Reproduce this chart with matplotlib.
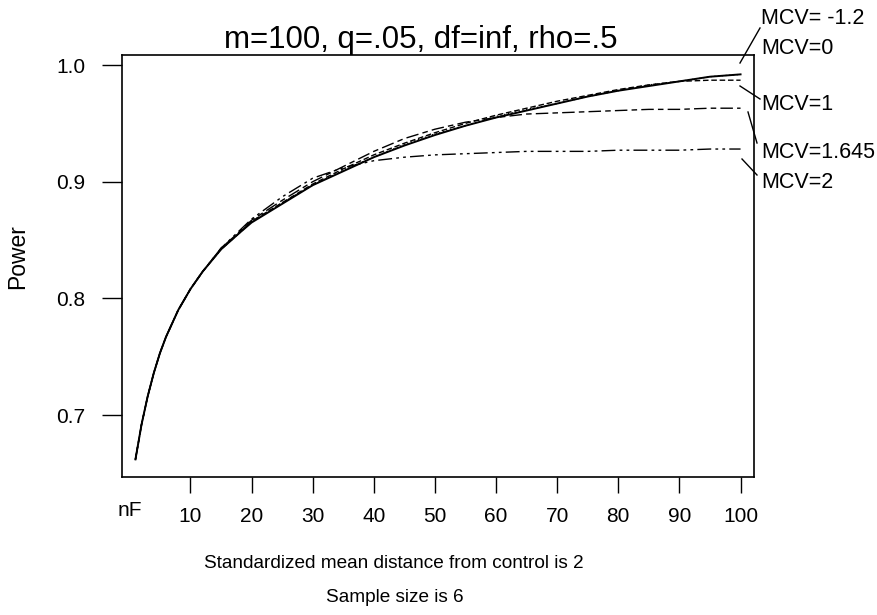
import matplotlib
matplotlib.use("Agg")
import matplotlib.pyplot as plt
from matplotlib.lines import Line2D

plt.rcParams['font.family'] = ['Liberation Sans', 'DejaVu Sans']

# ---- data ----
n_f = [1, 2, 3, 4, 5, 6, 8, 10, 12, 15, 18, 20, 25, 30, 35, 40, 45, 50,
       55, 60, 65, 70, 75, 80, 85, 90, 95, 100]

power_m12 = [0.662, 0.692, 0.716, 0.736, 0.753, 0.767, 0.790, 0.808, 0.823,
             0.842, 0.856, 0.865, 0.881, 0.897, 0.909, 0.921, 0.931, 0.940,
             0.948, 0.955, 0.961, 0.967, 0.973, 0.978, 0.982, 0.986, 0.990, 0.992]
power_0 = [0.662, 0.692, 0.716, 0.736, 0.753, 0.767, 0.790, 0.808, 0.823,
           0.842, 0.856, 0.866, 0.882, 0.897, 0.910, 0.921, 0.932, 0.941,
           0.948, 0.956, 0.962, 0.967, 0.973, 0.978, 0.983, 0.986, 0.990, 0.992]
power_1 = [0.662, 0.692, 0.716, 0.736, 0.753, 0.767, 0.790, 0.808, 0.823,
           0.842, 0.856, 0.866, 0.882, 0.898, 0.911, 0.923, 0.933, 0.942,
           0.950, 0.957, 0.963, 0.969, 0.974, 0.979, 0.983, 0.986, 0.987, 0.987]
power_1645 = [0.662, 0.692, 0.716, 0.736, 0.753, 0.767, 0.790, 0.808, 0.823,
              0.843, 0.857, 0.867, 0.884, 0.900, 0.913, 0.926, 0.937, 0.945,
              0.951, 0.955, 0.958, 0.959, 0.960, 0.961, 0.962, 0.962, 0.963, 0.963]
power_2 = [0.662, 0.692, 0.716, 0.736, 0.753, 0.767, 0.790, 0.808, 0.823,
           0.843, 0.858, 0.868, 0.887, 0.903, 0.912, 0.918, 0.921, 0.923,
           0.924, 0.925, 0.926, 0.926, 0.926, 0.927, 0.927, 0.927, 0.928, 0.928]

series_labels = ["MCV= -1.2", "MCV=0", "MCV=1", "MCV=1.645", "MCV=2"]
x_ticks = [10, 20, 30, 40, 50, 60, 70, 80, 90, 100]
y_ticks = [0.7, 0.8, 0.9, 1.0]
y_tick_labels = ["0.7", "0.8", "0.9", "1.0"]

title_text = "m=100, q=.05, df=inf, rho=.5"
xlabel1 = "Standardized mean distance from control is 2"
xlabel2 = "Sample size is 6"

W, H = 878, 615
fig = plt.figure(figsize=(W / 100, H / 100), dpi=100)
ax = fig.add_axes([122 / W, 1 - 477 / H, (754 - 122) / W, (477 - 55) / H])

ax.plot(n_f, power_m12, color='black', lw=1.4, ls='-')
ax.plot(n_f, power_0, color='black', lw=0.9, ls=(0, (1, 2)))
ax.plot(n_f, power_1, color='black', lw=1.0, ls=(0, (4, 2)))
ax.plot(n_f, power_1645, color='black', lw=1.0, ls=(0, (9, 3, 4, 3)))
ax.plot(n_f, power_2, color='black', lw=1.0, ls=(0, (10, 3, 2, 3, 2, 3)))

ax.set_xlim(-1.2, 102.2)
ax.set_ylim(0.6469, 1.0086)
ax.set_xticks(x_ticks)
ax.set_xticklabels([str(v) for v in x_ticks])
ax.set_yticks(y_ticks)
ax.set_yticklabels(y_tick_labels)
ax.tick_params(axis='x', length=11.5, width=1.0, pad=10, labelsize=15)
ax.tick_params(axis='y', length=14.4, width=1.0, pad=12, labelsize=15)
for s in ax.spines.values():
    s.set_linewidth(1.2)

# nF label at position 0 on x axis
ax.text(0, (477 - 510) / (477 - 55), "nF", transform=ax.get_xaxis_transform(),
        ha='center', va='center', fontsize=15)

def fx(px):
    return px / W

def fy(py):
    return 1 - py / H

fig.text(fx(421), fy(40), title_text, ha='center', va='center', fontsize=22.5)
fig.text(fx(18), fy(257), "Power", rotation=90, ha='center', va='center', fontsize=16.5)
fig.text(fx(394), fy(564), xlabel1, ha='center', va='center', fontsize=13.7)
fig.text(fx(395), fy(598), xlabel2, ha='center', va='center', fontsize=13.7)

# series labels outside the axes (right side)
label_y = [18, 48, 105, 152, 182]
for lab, py in zip(series_labels, label_y):
    fig.text(fx(761), fy(py), lab, ha='left', va='center', fontsize=15.5)

leaders = [((740, 63), (760, 28)),
           ((740, 86), (760, 99)),
           ((748, 112), (757, 143)),
           ((742, 159), (757, 175))]
for (x0, y0), (x1, y1) in leaders:
    fig.add_artist(Line2D([fx(x0), fx(x1)], [fy(y0), fy(y1)],
                          transform=fig.transFigure, color='black', lw=1.0))

fig.savefig("out.png", dpi=100, facecolor='white')
